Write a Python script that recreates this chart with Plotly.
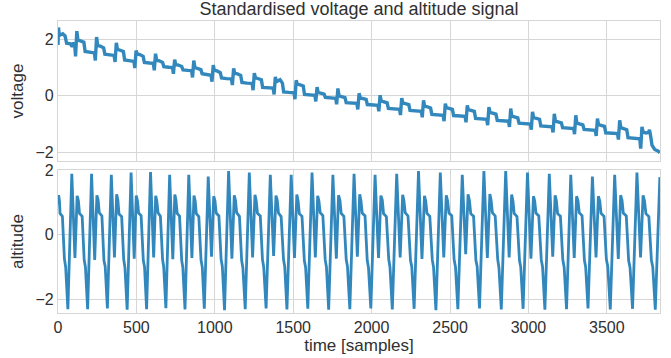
import plotly.graph_objects as go

# ---------------- data ----------------
# voltage: sample index and standardised value
volt_t = [0, 3, 8, 30, 45, 55, 80, 90, 98,
          106, 112, 120, 127, 144, 165, 173, 205,
          232, 238, 246, 253, 270, 291, 299, 331,
          358, 364, 372, 379, 396, 417, 425, 457,
          484, 490, 498, 505, 522, 543, 551, 583,
          608, 614, 622, 629, 646, 667, 675, 707,
          730, 736, 744, 751, 768, 789, 797, 829,
          852, 858, 866, 873, 890, 911, 919, 951,
          976, 982, 990, 997, 1014, 1035, 1043, 1075,
          1106, 1112, 1120, 1127, 1144, 1165, 1173, 1205,
          1238, 1244, 1252, 1259, 1276, 1297, 1305, 1337,
          1372, 1378, 1386, 1393, 1416, 1431, 1439, 1471,
          1505, 1511, 1519, 1526, 1543, 1564, 1572, 1604,
          1638, 1644, 1652, 1659, 1676, 1697, 1705, 1737,
          1771, 1777, 1785, 1792, 1809, 1830, 1838, 1870,
          1906, 1912, 1920, 1927, 1944, 1965, 1973, 2005,
          2040, 2046, 2054, 2061, 2078, 2099, 2107, 2139,
          2178, 2184, 2192, 2199, 2216, 2237, 2245, 2277,
          2317, 2323, 2331, 2338, 2355, 2376, 2384, 2416,
          2456, 2462, 2470, 2477, 2494, 2515, 2523, 2555,
          2596, 2602, 2610, 2617, 2634, 2655, 2663, 2695,
          2734, 2740, 2748, 2755, 2772, 2793, 2801, 2833,
          2873, 2879, 2887, 2894, 2911, 2932, 2940, 2972,
          3012, 3018, 3026, 3033, 3050, 3071, 3079, 3111,
          3151, 3157, 3165, 3172, 3189, 3210, 3218, 3250,
          3288, 3294, 3302, 3309, 3326, 3347, 3355, 3387,
          3426, 3432, 3440, 3447, 3464, 3485, 3493, 3525,
          3568, 3574, 3582, 3589, 3606, 3627, 3635, 3667,
          3710, 3716, 3724, 3731, 3748, 3766, 3772, 3780, 3788, 3805, 3825, 3838]

volt_v = [1.80, 2.42, 2.14, 2.20, 2.12, 1.86, 1.84, 1.74, 1.85,
          1.85, 1.40, 2.29, 1.98, 1.95, 1.90, 1.57, 1.55,
          1.52, 1.25, 2.08, 1.78, 1.76, 1.70, 1.47, 1.45,
          1.43, 1.20, 1.88, 1.65, 1.62, 1.57, 1.27, 1.24,
          1.22, 0.98, 1.60, 1.48, 1.46, 1.40, 1.18, 1.16,
          1.15, 0.90, 1.49, 1.26, 1.24, 1.18, 1.03, 1.01,
          1.00, 0.78, 1.28, 1.10, 1.09, 1.04, 0.92, 0.90,
          0.89, 0.65, 1.25, 1.00, 0.98, 0.93, 0.78, 0.76,
          0.73, 0.50, 1.09, 0.90, 0.88, 0.82, 0.63, 0.61,
          0.60, 0.38, 0.97, 0.80, 0.78, 0.72, 0.47, 0.45,
          0.44, 0.20, 0.80, 0.64, 0.62, 0.57, 0.30, 0.28,
          0.27, 0.05, 0.67, 0.50, 0.57, 0.45, 0.14, 0.12,
          0.11, -0.12, 0.55, 0.42, 0.40, 0.35, 0.05, 0.03,
          0.02, -0.20, 0.31, 0.12, 0.10, 0.06, -0.06, -0.08,
          -0.09, -0.30, 0.26, 0.00, -0.02, -0.06, -0.24, -0.26,
          -0.27, -0.48, 0.09, -0.07, -0.09, -0.13, -0.31, -0.33,
          -0.34, -0.55, 0.02, -0.18, -0.20, -0.25, -0.45, -0.47,
          -0.48, -0.68, -0.08, -0.25, -0.27, -0.31, -0.52, -0.54,
          -0.55, -0.76, -0.16, -0.36, -0.38, -0.43, -0.66, -0.68,
          -0.69, -0.90, -0.28, -0.42, -0.44, -0.48, -0.70, -0.72,
          -0.73, -0.94, -0.34, -0.49, -0.51, -0.55, -0.80, -0.82,
          -0.83, -1.04, -0.40, -0.59, -0.61, -0.65, -0.87, -0.89,
          -0.90, -1.10, -0.45, -0.72, -0.74, -0.78, -0.97, -0.99,
          -1.00, -1.20, -0.57, -0.77, -0.79, -0.83, -1.07, -1.09,
          -1.10, -1.30, -0.64, -0.90, -0.92, -0.96, -1.13, -1.15,
          -1.16, -1.36, -0.69, -0.97, -0.99, -1.03, -1.19, -1.21,
          -1.22, -1.42, -0.81, -1.02, -1.04, -1.08, -1.31, -1.33,
          -1.34, -1.55, -0.87, -1.13, -1.15, -1.20, -1.48, -1.50,
          -1.52, -1.87, -1.10, -1.28, -1.32, -1.30, -1.20, -1.45, -1.75, -1.90, -1.95, -2.02]

# altitude: sample index and standardised value
alt_t = [0, 4, 9, 13, 28, 41, 49, 63,
         88, 108, 122, 130, 137, 154, 167, 175, 189,
         214, 234, 248, 256, 263, 280, 293, 301, 315,
         340, 360, 374, 382, 389, 406, 419, 427, 441,
         466, 486, 499, 507, 514, 530, 544, 552, 565,
         590, 610, 623, 630, 638, 653, 667, 674, 688,
         712, 732, 745, 752, 760, 775, 789, 796, 810,
         834, 854, 867, 875, 882, 898, 912, 920, 933,
         958, 979, 993, 1001, 1009, 1026, 1040, 1048, 1062,
         1088, 1109, 1124, 1132, 1139, 1157, 1171, 1179, 1194,
         1220, 1241, 1256, 1264, 1272, 1290, 1304, 1312, 1327,
         1354, 1375, 1390, 1398, 1406, 1423, 1438, 1446, 1460,
         1487, 1508, 1523, 1531, 1539, 1556, 1571, 1579, 1593,
         1620, 1641, 1656, 1664, 1672, 1689, 1704, 1712, 1726,
         1753, 1775, 1789, 1798, 1806, 1823, 1838, 1846, 1861,
         1888, 1909, 1924, 1932, 1940, 1958, 1972, 1980, 1995,
         2022, 2044, 2059, 2068, 2076, 2094, 2109, 2117, 2132,
         2160, 2182, 2198, 2206, 2214, 2232, 2248, 2256, 2271,
         2299, 2321, 2337, 2345, 2353, 2371, 2387, 2395, 2410,
         2438, 2460, 2476, 2484, 2493, 2511, 2526, 2535, 2550,
         2578, 2600, 2615, 2624, 2632, 2650, 2665, 2673, 2688,
         2716, 2738, 2754, 2762, 2770, 2788, 2804, 2812, 2827,
         2855, 2877, 2893, 2901, 2909, 2927, 2943, 2951, 2966,
         2994, 3016, 3032, 3040, 3048, 3066, 3082, 3090, 3105,
         3133, 3155, 3170, 3178, 3186, 3204, 3219, 3228, 3243,
         3270, 3292, 3307, 3316, 3324, 3342, 3357, 3365, 3380,
         3408, 3431, 3446, 3455, 3463, 3482, 3497, 3506, 3522,
         3550, 3573, 3588, 3597, 3605, 3624, 3639, 3648, 3664,
         3692, 3715, 3731, 3740, 3749, 3768, 3784, 3793, 3809,
         3838]

alt_v = [0.95, 1.22, 1.05, 0.66, 0.57, -0.75, -1.00, -2.30,
         1.88, -0.72, 1.20, 1.05, 0.66, 0.57, -0.78, -1.00, -2.30,
         1.88, -0.78, 1.22, 1.07, 0.68, 0.58, -0.80, -0.98, -2.28,
         1.85, -0.70, 1.25, 1.06, 0.64, 0.56, -0.76, -1.02, -2.32,
         1.92, -0.74, 1.21, 1.04, 0.67, 0.59, -0.79, -1.00, -2.30,
         1.94, -0.70, 1.20, 1.05, 0.68, 0.57, -0.77, -0.99, -2.27,
         1.85, -0.76, 1.24, 1.08, 0.66, 0.58, -0.80, -1.01, -2.31,
         1.85, -0.72, 1.21, 1.04, 0.65, 0.56, -0.78, -1.00, -2.29,
         1.80, -0.68, 1.19, 1.05, 0.67, 0.58, -0.75, -0.98, -2.33,
         1.97, -0.74, 1.22, 1.06, 0.68, 0.57, -0.79, -1.02, -2.30,
         1.92, -0.70, 1.23, 1.05, 0.66, 0.58, -0.77, -1.00, -2.28,
         1.85, -0.66, 1.21, 1.07, 0.67, 0.56, -0.76, -0.99, -2.31,
         1.85, -0.72, 1.24, 1.05, 0.65, 0.57, -0.80, -1.01, -2.29,
         1.92, -0.70, 1.20, 1.04, 0.68, 0.59, -0.78, -1.00, -2.32,
         1.85, -0.74, 1.22, 1.06, 0.66, 0.57, -0.77, -0.98, -2.30,
         1.88, -0.68, 1.25, 1.05, 0.67, 0.58, -0.79, -1.02, -2.28,
         1.85, -0.72, 1.21, 1.07, 0.65, 0.56, -0.76, -1.00, -2.31,
         1.88, -0.70, 1.23, 1.05, 0.68, 0.58, -0.80, -0.99, -2.29,
         1.97, -0.75, 1.20, 1.04, 0.66, 0.57, -0.78, -1.01, -2.33,
         1.92, -0.70, 1.22, 1.06, 0.67, 0.59, -0.77, -1.00, -2.30,
         1.85, -0.60, 1.25, 1.05, 0.65, 0.57, -0.79, -0.98, -2.28,
         1.97, -0.72, 1.26, 1.07, 0.68, 0.58, -0.76, -1.02, -2.31,
         1.97, -0.70, 1.24, 1.05, 0.66, 0.56, -0.80, -1.00, -2.29,
         1.92, -0.74, 1.19, 1.04, 0.67, 0.58, -0.78, -0.99, -2.32,
         1.88, -0.68, 1.22, 1.06, 0.65, 0.57, -0.77, -1.01, -2.30,
         1.85, -0.72, 1.19, 1.05, 0.68, 0.59, -0.79, -1.00, -2.28,
         1.80, -0.70, 1.19, 1.04, 0.66, 0.57, -0.76, -0.98, -2.31,
         1.85, -0.75, 1.22, 1.06, 0.67, 0.58, -0.80, -1.02, -2.29,
         1.92, -0.70, 1.22, 1.05, 0.65, 0.56, -0.78, -1.00, -2.32,
         1.78]

x_ticks = [0, 500, 1000, 1500, 2000, 2500, 3000, 3500]
y_ticks = [-2, 0, 2]

TITLE = "Standardised voltage and altitude signal"
X_LABEL = "time [samples]"
Y_TOP_LABEL = "voltage"
Y_BOTTOM_LABEL = "altitude"

# ---------------- style ----------------
BLUE = "#3288bd"
GRID = "#d6d6d6"
TEXT = "#303030"
FONT = "Liberation Sans, Arial, sans-serif"

fig = go.Figure()
fig.add_trace(go.Scatter(x=volt_t, y=volt_v, mode="lines",
                         line=dict(color=BLUE, width=3.4),
                         xaxis="x2", yaxis="y2", showlegend=False))
fig.add_trace(go.Scatter(x=alt_t, y=alt_v, mode="lines",
                         line=dict(color=BLUE, width=2.8),
                         xaxis="x", yaxis="y", showlegend=False))

axis_common = dict(showgrid=True, gridcolor=GRID, gridwidth=1.2,
                   showline=True, linecolor=GRID, linewidth=1.2, mirror=True,
                   zeroline=False, ticks="", automargin=False,
                   tickfont=dict(size=16, color=TEXT, family=FONT))

fig.update_layout(
    width=671, height=358,
    margin=dict(l=58, r=11, t=21, b=45, autoexpand=False),
    paper_bgcolor="white", plot_bgcolor="white",
    font=dict(family=FONT, color=TEXT),
    title=dict(text=TITLE, x=0.5, xref="paper", xanchor="center",
               y=1 - 2 / 358, yref="container", yanchor="top",
               font=dict(size=18, color=TEXT, family=FONT)),
    xaxis=dict(domain=[0, 1], anchor="y", range=[0, 3839],
               tickvals=x_ticks, ticktext=[str(v) for v in x_ticks],
               title=dict(text=X_LABEL, font=dict(size=17, color=TEXT), standoff=2),
               **axis_common),
    xaxis2=dict(domain=[0, 1], anchor="y2", range=[0, 3839], matches="x",
                tickvals=x_ticks, showticklabels=False, **axis_common),
    yaxis=dict(domain=[0, 0.4897], range=[-2.42, 2.0], tickvals=y_ticks,
               ticktext=["\u22122", "0", "2"],
               title=dict(text=Y_BOTTOM_LABEL, font=dict(size=17, color=TEXT), standoff=7),
               **axis_common),
    yaxis2=dict(domain=[0.5205, 1], range=[-2.31, 2.65], tickvals=y_ticks,
                ticktext=["\u22122", "0", "2"],
                title=dict(text=Y_TOP_LABEL, font=dict(size=17, color=TEXT), standoff=7),
                **axis_common),
)

fig.write_html("out.html",
               config={"displayModeBar": False},
               post_script="document.body.style.margin='0';document.body.style.padding='0';")
